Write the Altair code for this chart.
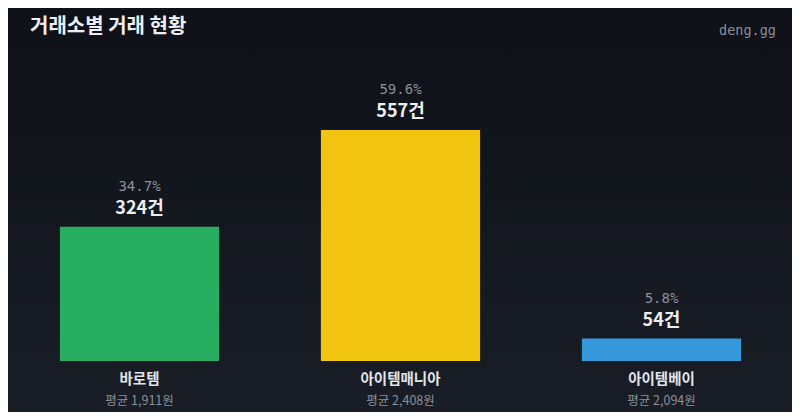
import altair as alt
import pandas as pd

# ---- data ----
exchanges = ["바로템", "아이템매니아", "아이템베이"]
counts = [324, 557, 54]
shares = ["34.7%", "59.6%", "5.8%"]
avg_prices = ["평균 1,911원", "평균 2,408원", "평균 2,094원"]
bar_colors = ["#27ae60", "#f1c40f", "#3498db"]
title_text = "거래소별 거래 현황"
brand_text = "deng.gg"

df = pd.DataFrame({
    "exchange": exchanges,
    "count": counts,
    "share": shares,
    "avg": avg_prices,
    "count_label": [f"{c}건" for c in counts],
})

W, H = 784, 404
KR = "Noto Sans CJK KR"
MONO = "DejaVu Sans Mono"

x_enc = alt.X("exchange:N", sort=exchanges, axis=None,
              scale=alt.Scale(range=[1, 784], paddingInner=0.39, paddingOuter=0.195))
y_scale = alt.Scale(domain=[0, 557], range=[353, 122])
y_enc = alt.Y("count:Q", axis=None, scale=y_scale)

bg = alt.Chart(pd.DataFrame({"k": [0]})).mark_rect(
    fill=alt.Gradient(gradient="linear", x1=0, x2=0, y1=0, y2=1,
                      stops=[alt.GradientStop(color="#0e1117", offset=0),
                             alt.GradientStop(color="#191d25", offset=1)]),
    clip=False,
).encode(x=alt.value(0), x2=alt.value(W), y=alt.value(0), y2=alt.value(H))

base = alt.Chart(df)

bars = base.mark_bar(cornerRadius=0).encode(
    x=x_enc,
    y=y_enc,
    y2=alt.datum(0),
    color=alt.Color("exchange:N", sort=exchanges,
                    scale=alt.Scale(domain=exchanges, range=bar_colors), legend=None),
)

pct = base.mark_text(font=MONO, fontSize=14, color="#8a9099", baseline="middle", dy=-40).encode(
    x=x_enc, y=y_enc, text="share:N")

cnt = base.mark_text(font=KR, fontSize=18, fontWeight="bold", color="#eceef1",
                     baseline="middle", dy=-18).encode(
    x=x_enc, y=y_enc, text="count_label:N")

cat = base.mark_text(font=KR, fontSize=14.5, fontWeight="bold", color="#e3e5e8",
                     baseline="middle", dy=19).encode(
    x=x_enc, y=alt.Y("zero:Q", scale=y_scale, axis=None), text="exchange:N"
).transform_calculate(zero="0")

avg = base.mark_text(font=KR, fontSize=12.5, color="#8a9099", baseline="middle", dy=40).encode(
    x=x_enc, y=alt.Y("zero:Q", scale=y_scale, axis=None), text="avg:N"
).transform_calculate(zero="0")

title = alt.Chart(pd.DataFrame({"t": [title_text]})).mark_text(
    font=KR, fontSize=20, fontWeight="bold", color="#eceef1", align="left", baseline="middle"
).encode(x=alt.value(22), y=alt.value(19), text="t:N")

brand = alt.Chart(pd.DataFrame({"t": [brand_text]})).mark_text(
    font=MONO, fontSize=13.5, color="#8a9099", align="right", baseline="middle"
).encode(x=alt.value(768), y=alt.value(23), text="t:N")

chart = alt.layer(bg, bars, pct, cnt, cat, avg, title, brand).properties(
    width=W, height=H,
    autosize=alt.AutoSizeParams(type="none"),
    padding=0,
    background="#12151c",
).configure_view(stroke=None)

chart.save("out.html", embed_options={"renderer": "svg", "actions": False})
